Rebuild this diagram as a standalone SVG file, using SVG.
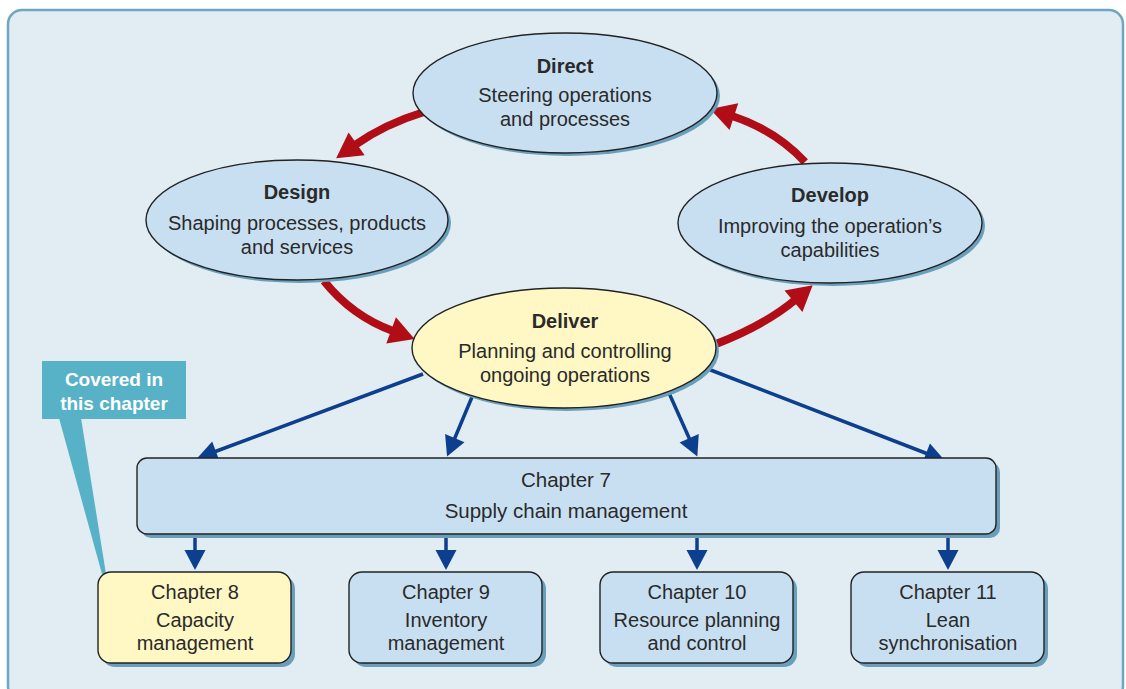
<svg xmlns="http://www.w3.org/2000/svg" width="1126" height="689" viewBox="0 0 1126 689">
<defs>
<style>
.panel{fill:#e1ecf3;stroke:#6fa6c2;stroke-width:2.5}
.shadow{fill:#6a9fbb}
.blue{fill:#c8dff2;stroke:#222;stroke-width:1.4}
.yellow{fill:#fff8c4;stroke:#222;stroke-width:1.4}
text{font-family:"Liberation Sans",Arial,sans-serif;fill:#2a2a2a;text-anchor:middle}
.t{font-size:20px}
.b{font-size:20px;font-weight:bold}
.c{font-size:20px}
.c7{font-size:20.5px}
.red{fill:none;stroke:#b10d17;stroke-width:8}
.bl{fill:none;stroke:#0d3f8f;stroke-width:3.5}
.call{fill:#57b1c7}
.ct{font-size:19px;font-weight:bold;fill:#fff}
</style>
<marker id="rh" markerUnits="userSpaceOnUse" markerWidth="32" markerHeight="32" viewBox="0 -16 28 32" refX="2" refY="0" orient="auto">
<path d="M0,-14 L25,0 L0,14 z" fill="#b10d17"/>
</marker>
<marker id="bh" markerUnits="userSpaceOnUse" markerWidth="24" markerHeight="24" viewBox="0 -12 21 24" refX="2" refY="0" orient="auto">
<path d="M0,-10.5 L20,0 L0,10.5 z" fill="#0d3f8f"/>
</marker>
</defs>
<rect class="panel" x="8" y="10" width="1115" height="690" rx="14"/>

<g id="connectors">
<path class="red" d="M424 112 Q385 124 355 145" marker-end="url(#rh)"/>
<path class="red" d="M324 281 Q352 316 393 331" marker-end="url(#rh)"/>
<path class="red" d="M716 344 Q765 325 795 300" marker-end="url(#rh)"/>
<path class="red" d="M805 162 Q775 130 732 116" marker-end="url(#rh)"/>
<path class="bl" d="M423 374 L214 452" marker-end="url(#bh)"/>
<path class="bl" d="M472 397 L454 440" marker-end="url(#bh)"/>
<path class="bl" d="M669 393 L690 440" marker-end="url(#bh)"/>
<path class="bl" d="M708 369 L928 454" marker-end="url(#bh)"/>
<path class="bl" d="M195 534 L195 552" marker-end="url(#bh)"/>
<path class="bl" d="M446 534 L446 552" marker-end="url(#bh)"/>
<path class="bl" d="M697 534 L697 552" marker-end="url(#bh)"/>
<path class="bl" d="M948 534 L948 552" marker-end="url(#bh)"/>
</g>

<g id="direct">
<ellipse class="shadow" cx="568" cy="96" rx="152" ry="60"/>
<ellipse class="blue" cx="565" cy="93" rx="152" ry="60"/>
<text class="b" x="565" y="73">Direct</text>
<text class="t" x="565" y="102">Steering operations</text>
<text class="t" x="565" y="126">and processes</text>
</g>

<g id="design">
<ellipse class="shadow" cx="300" cy="223" rx="151" ry="60"/>
<ellipse class="blue" cx="297" cy="220" rx="151" ry="60"/>
<text class="b" x="297" y="199">Design</text>
<text class="t" x="297" y="230">Shaping processes, products</text>
<text class="t" x="297" y="254">and services</text>
</g>

<g id="develop">
<ellipse class="shadow" cx="833" cy="226" rx="152" ry="60"/>
<ellipse class="blue" cx="830" cy="223" rx="152" ry="60"/>
<text class="b" x="830" y="202">Develop</text>
<text class="t" x="830" y="233">Improving the operation’s</text>
<text class="t" x="830" y="257">capabilities</text>
</g>

<g id="deliver">
<ellipse class="shadow" cx="567" cy="351" rx="152" ry="60"/>
<ellipse class="yellow" cx="564" cy="348" rx="152" ry="60"/>
<text class="b" x="565" y="328">Deliver</text>
<text class="t" x="565" y="358">Planning and controlling</text>
<text class="t" x="565" y="382">ongoing operations</text>
</g>

<g id="ch7">
<rect class="shadow" x="141" y="462" width="859" height="76" rx="10"/>
<rect class="blue" x="137" y="458" width="859" height="76" rx="10"/>
<text class="c7" x="566" y="487">Chapter 7</text>
<text class="c7" x="566" y="518">Supply chain management</text>
</g>

<g id="callout">
<path class="call" d="M59 418 L81 418 L106 574 L102 574 z"/>
<rect class="call" x="42" y="361" width="144" height="58"/>
<text class="ct" x="114" y="386">Covered in</text>
<text class="ct" x="114" y="410">this chapter</text>
</g>

<g id="ch8">
<rect class="shadow" x="102" y="576" width="193" height="91" rx="13"/>
<rect class="yellow" x="98" y="572" width="193" height="91" rx="13"/>
<text class="c" x="195" y="599">Chapter 8</text>
<text class="c" x="195" y="627">Capacity</text>
<text class="c" x="195" y="650">management</text>
</g>

<g id="ch9">
<rect class="shadow" x="353" y="576" width="193" height="91" rx="13"/>
<rect class="blue" x="349" y="572" width="193" height="91" rx="13"/>
<text class="c" x="446" y="599">Chapter 9</text>
<text class="c" x="446" y="627">Inventory</text>
<text class="c" x="446" y="650">management</text>
</g>

<g id="ch10">
<rect class="shadow" x="604" y="576" width="193" height="91" rx="13"/>
<rect class="blue" x="600" y="572" width="193" height="91" rx="13"/>
<text class="c" x="697" y="599">Chapter 10</text>
<text class="c" x="697" y="627">Resource planning</text>
<text class="c" x="697" y="650">and control</text>
</g>

<g id="ch11">
<rect class="shadow" x="855" y="576" width="193" height="91" rx="13"/>
<rect class="blue" x="851" y="572" width="193" height="91" rx="13"/>
<text class="c" x="948" y="599">Chapter 11</text>
<text class="c" x="948" y="627">Lean</text>
<text class="c" x="948" y="650">synchronisation</text>
</g>
</svg>
